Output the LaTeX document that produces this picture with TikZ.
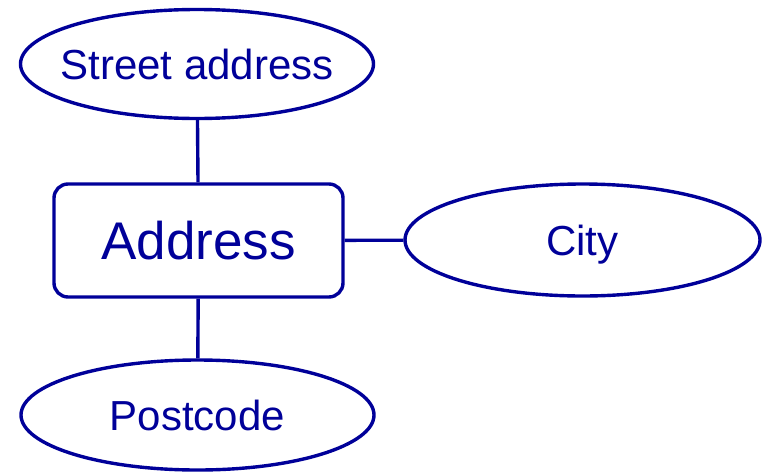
\documentclass[tikz,border=0pt]{standalone}
\usepackage{fontspec}
\setmainfont{Liberation Sans}
\usetikzlibrary{shapes.geometric}
\definecolor{er}{HTML}{000099}
\tikzset{
  attr/.style={ellipse, draw=er, line width=3.4pt, text=er, inner xsep=-40pt, inner ysep=0pt, text height=30pt, text depth=0pt, minimum width=353pt, minimum height=109pt, font=\fontsize{42}{50}\selectfont},
  entity/.style={rectangle, rounded corners=14pt, draw=er, line width=3.4pt, text=er, inner sep=0pt, text height=38pt, text depth=0pt, minimum width=289pt, minimum height=113pt, font=\fontsize{53}{60}\selectfont},
  link/.style={draw=er, line width=3.4pt}
}
\begin{document}
\begin{tikzpicture}[x=1pt,y=-1pt]
\useasboundingbox (0,0) rectangle (770,474);
\node[attr] (street) at (197,64) {Street address};
\node[entity] (addr) at (198.5,240.5) {Address};
\node[attr, minimum width=355pt, minimum height=112pt] (city) at (582.5,240) {City};
\node[attr, minimum height=110pt] (post) at (197.5,415) {Postcode};
\draw[link] (addr) -- (street);
\draw[link] (addr) -- (post);
\draw[link] (addr) -- (city);
\end{tikzpicture}
\end{document}
